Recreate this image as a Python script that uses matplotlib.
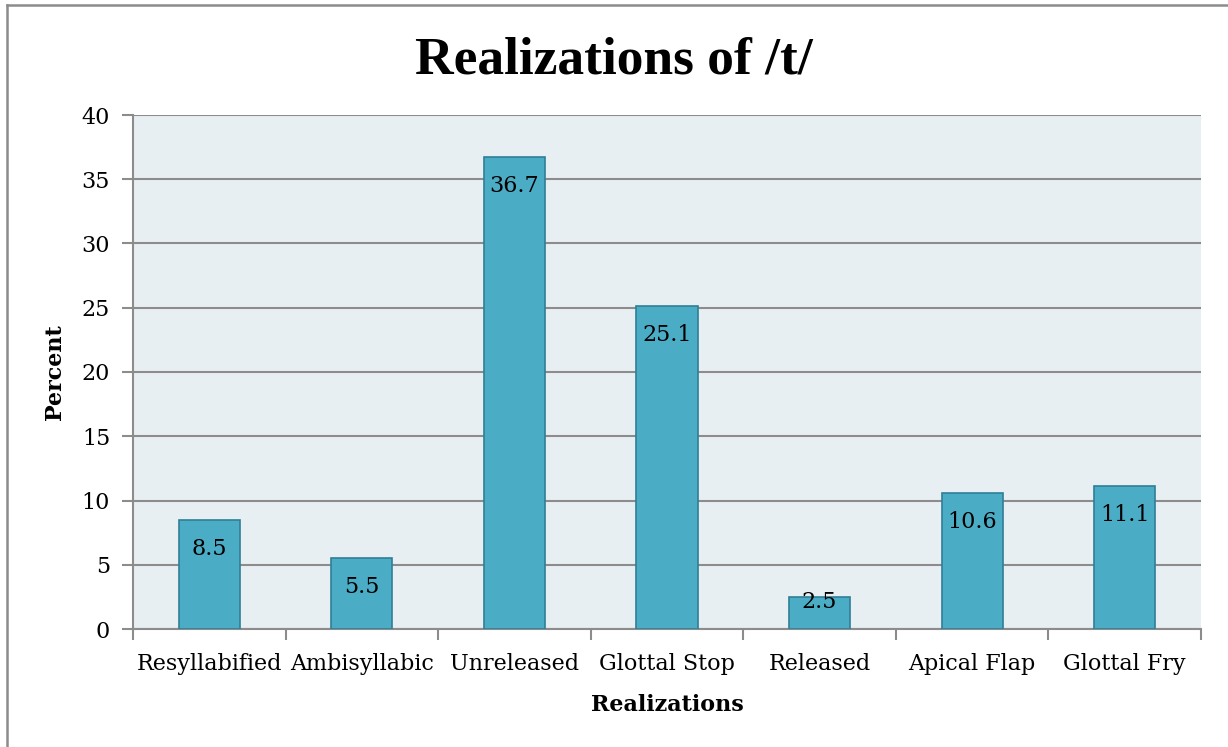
import matplotlib
matplotlib.use("Agg")
import matplotlib.pyplot as plt
from matplotlib.lines import Line2D
import numpy as np

categories = ["Resyllabified", "Ambisyllabic", "Unreleased", "Glottal Stop",
              "Released", "Apical Flap", "Glottal Fry"]
values = [8.5, 5.5, 36.7, 25.1, 2.5, 10.6, 11.1]
yticks = [0, 5, 10, 15, 20, 25, 30, 35, 40]

plt.rcParams['font.family'] = ['DejaVu Serif']

W, H = 1228, 747
fig = plt.figure(figsize=(W / 100, H / 100), dpi=100)
ax_top, ax_bot = 115, 629
ax = fig.add_axes([133 / W, 1 - ax_bot / H, (1201 - 133) / W, (ax_bot - ax_top) / H])

# partial figure border (left and top only visible)
fig.lines.append(Line2D([7 / W, 7 / W], [0, 1 - 5 / H], transform=fig.transFigure,
                        color='#8c8c8c', linewidth=1.8))
fig.lines.append(Line2D([7 / W, 1], [1 - 5 / H, 1 - 5 / H], transform=fig.transFigure,
                        color='#8c8c8c', linewidth=1.8))

ymax = 40
px_per_unit = (ax_bot - ax_top) / ymax
x = np.arange(len(categories))
ax.set_facecolor('#E8EFF3')
ax.bar(x, values, width=0.4, color='#4BACC6', edgecolor='#2F7F95', linewidth=1.2, zorder=3)
for xi, v in zip(x, values):
    ypos = max(v - 29 / px_per_unit, 27 / px_per_unit)
    ax.text(xi, ypos, f"{v}", ha='center', va='center', fontsize=16,
            color='black', zorder=4)

ax.set_xlim(-0.5, len(categories) - 0.5)
ax.set_ylim(0, ymax)
ax.set_yticks(yticks)
ax.yaxis.grid(True, color='#8c8c8c', linewidth=1.5, zorder=1)
ax.set_axisbelow(True)
ax.set_xticks(np.arange(len(categories) + 1) - 0.5)
ax.set_xticklabels([])
ax.set_xticks(x, minor=True)
ax.set_xticklabels(categories, minor=True, fontsize=16)
ax.tick_params(axis='x', which='minor', length=0, pad=17)
ax.tick_params(axis='x', which='major', length=8, width=1.5, color='#8c8c8c', direction='out')
ax.tick_params(axis='y', length=8, width=1.5, color='#8c8c8c', labelsize=16, pad=8.5)
for s in ['top', 'right']:
    ax.spines[s].set_visible(False)
for s in ['left', 'bottom']:
    ax.spines[s].set_color('#8c8c8c')
    ax.spines[s].set_linewidth(1.5)

ax.set_ylabel("Percent", fontsize=16, fontweight='bold', labelpad=11)
ax.set_xlabel("Realizations", fontsize=16, fontweight='bold', labelpad=14)
fig.text(0.5, 1 - 73 / H, "Realizations of /t/", ha='center', va='baseline',
         fontsize=38.5, fontweight='bold', family=['Liberation Serif', 'DejaVu Serif'])

fig.savefig("out.png", dpi=100)
